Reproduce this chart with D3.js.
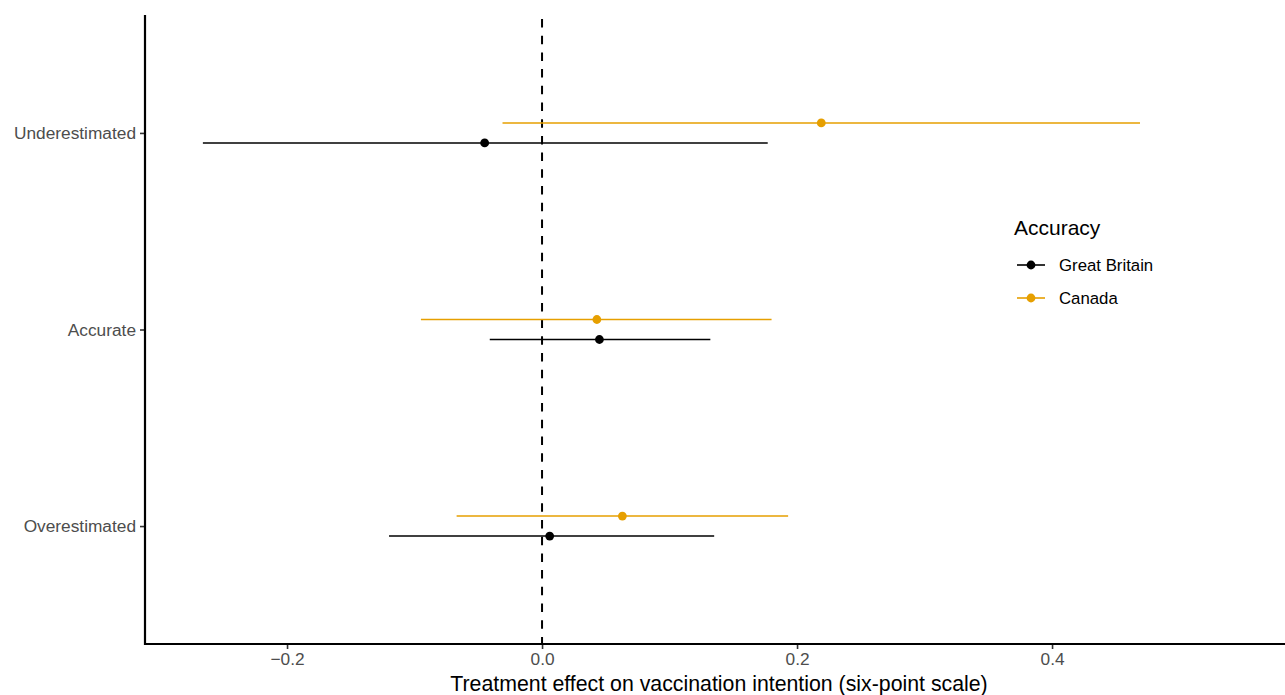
<!DOCTYPE html>
<html>
<head>
<meta charset="utf-8">
<script src="https://cdn.jsdelivr.net/npm/d3@7"></script>
<style>
  html, body { margin: 0; padding: 0; background: #fff; }
  svg { display: block; font-family: "Liberation Sans", Arial, sans-serif; }
</style>
</head>
<body>
<svg id="chart" width="1285" height="695"></svg>
<script>
// ---- data ----
const categories = ["Underestimated", "Accurate", "Overestimated"];
const seriesNames = ["Great Britain", "Canada"];
const seriesColors = ["#000000", "#E69F00"];
// point estimates, lower and upper bounds, per category (same order as categories)
const gbEstimate = [-0.045, 0.045, 0.006];
const gbLower    = [-0.266, -0.041, -0.120];
const gbUpper    = [0.177, 0.132, 0.135];
const caEstimate = [0.219, 0.043, 0.063];
const caLower    = [-0.031, -0.095, -0.067];
const caUpper    = [0.469, 0.180, 0.193];
const xTicks = [-0.2, 0.0, 0.2, 0.4];
const xTitle = "Treatment effect on vaccination intention (six-point scale)";
const legendTitle = "Accuracy";

// ---- layout ----
const svg = d3.select("#chart");
const margin = { left: 145, right: 1285, top: 15, bottom: 644 };

const x = d3.scaleLinear()
  .domain([-0.3114, 0.5827])
  .range([margin.left, margin.right]);

const y = d3.scalePoint()
  .domain(categories)
  .range([margin.top, margin.bottom])
  .padding(0.6);

const dodge = { "Great Britain": 10, "Canada": -10 };

const rows = [];
categories.forEach((c, i) => {
  rows.push({ cat: c, series: "Great Britain", est: gbEstimate[i], lo: gbLower[i], hi: gbUpper[i], color: seriesColors[0] });
  rows.push({ cat: c, series: "Canada", est: caEstimate[i], lo: caLower[i], hi: caUpper[i], color: seriesColors[1] });
});

// zero reference line
svg.append("line")
  .attr("x1", x(0)).attr("x2", x(0))
  .attr("y1", margin.top + 4).attr("y2", margin.bottom)
  .attr("stroke", "#000").attr("stroke-width", 2)
  .attr("stroke-dasharray", "8.5,8.2");

// error bars
svg.append("g").selectAll("line")
  .data(rows).join("line")
  .attr("x1", d => x(d.lo)).attr("x2", d => x(d.hi))
  .attr("y1", d => y(d.cat) + dodge[d.series])
  .attr("y2", d => y(d.cat) + dodge[d.series])
  .attr("stroke", d => d.color).attr("stroke-width", 1.6);

// points
svg.append("g").selectAll("circle")
  .data(rows).join("circle")
  .attr("cx", d => x(d.est))
  .attr("cy", d => y(d.cat) + dodge[d.series])
  .attr("r", 4.4)
  .attr("fill", d => d.color);

// x axis
const xAxis = svg.append("g")
  .attr("transform", `translate(0,${margin.bottom})`)
  .call(d3.axisBottom(x).tickValues(xTicks).tickSize(5).tickPadding(4)
    .tickFormat(d => d3.format(".1f")(d).replace("-", "\u2212")));
xAxis.select(".domain").remove();
xAxis.selectAll(".tick line").attr("stroke", "#333").attr("stroke-width", 1.6);
xAxis.selectAll(".tick text").attr("fill", "#4D4D4D").attr("font-size", "17.3px")
  .attr("font-family", "Liberation Sans, Arial, sans-serif");

// y axis
const yAxis = svg.append("g")
  .attr("transform", `translate(${margin.left},0)`)
  .call(d3.axisLeft(y).tickSize(5).tickPadding(4));
yAxis.select(".domain").remove();
yAxis.selectAll(".tick line").attr("stroke", "#333").attr("stroke-width", 1.6);
yAxis.selectAll(".tick text").attr("fill", "#4D4D4D").attr("font-size", "17.3px")
  .attr("font-family", "Liberation Sans, Arial, sans-serif");

// axis lines
svg.append("line")
  .attr("x1", margin.left).attr("x2", margin.left)
  .attr("y1", margin.top).attr("y2", margin.bottom + 1)
  .attr("stroke", "#000").attr("stroke-width", 2.2);
svg.append("line")
  .attr("x1", margin.left - 1).attr("x2", margin.right)
  .attr("y1", margin.bottom).attr("y2", margin.bottom)
  .attr("stroke", "#000").attr("stroke-width", 2.2);

// x title
svg.append("text")
  .attr("x", (margin.left + margin.right) / 2 + 4)
  .attr("y", 691)
  .attr("text-anchor", "middle")
  .attr("font-size", "21.3px")
  .attr("fill", "#000")
  .text(xTitle);

// legend
const lg = svg.append("g").attr("transform", "translate(1014,0)");
lg.append("text")
  .attr("x", 0).attr("y", 235)
  .attr("font-size", "21px")
  .attr("fill", "#000")
  .text(legendTitle);
const legY = [265, 298];
seriesNames.forEach((s, i) => {
  const g = lg.append("g").attr("transform", `translate(0,${legY[i]})`);
  g.append("line").attr("x1", 3).attr("x2", 31).attr("y1", 0).attr("y2", 0)
    .attr("stroke", seriesColors[i]).attr("stroke-width", 1.6);
  g.append("circle").attr("cx", 17).attr("cy", 0).attr("r", 4.4).attr("fill", seriesColors[i]);
  g.append("text").attr("x", 45).attr("y", 0).attr("dy", "0.35em")
    .attr("font-size", "16.8px").attr("fill", "#000").text(s);
});
</script>
</body>
</html>
